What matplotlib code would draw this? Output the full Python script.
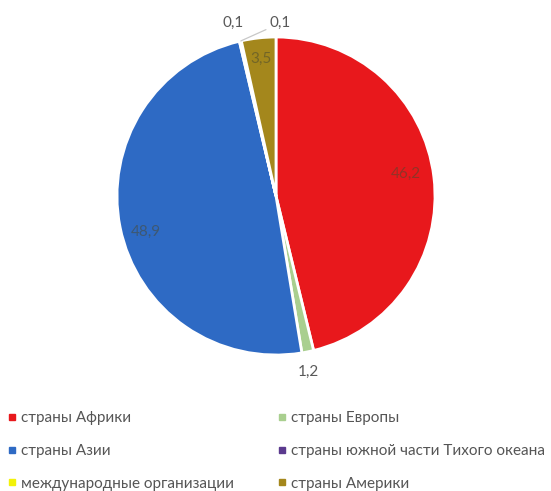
import matplotlib
matplotlib.use("Agg")
import matplotlib.pyplot as plt
import numpy as np
from matplotlib.lines import Line2D

categories = ["страны Африки", "страны Европы", "страны Азии",
              "страны южной части Тихого океана", "международные организации",
              "страны Америки"]
values = [46.2, 1.2, 48.9, 0.1, 0.1, 3.5]
labels = ["46,2", "1,2", "48,9", "0,1", "0,1", "3,5"]
colors = ["#E8181C", "#A9CF8F", "#2E6AC4", "#5B3A8E", "#F2F20A", "#A4871C"]

plt.rcParams['font.family'] = ['Lato', 'DejaVu Sans']
fig = plt.figure(figsize=(5.51, 4.91), dpi=100)
W, H = 551, 491
cx, cy, R = 276, 196, 159
ax = fig.add_axes([(cx - R) / W, (H - cy - R) / H, 2 * R / W, 2 * R / H])
wedges, _ = ax.pie(values, colors=colors, startangle=90, counterclock=False,
                   wedgeprops=dict(edgecolor="white", linewidth=2))
ax.set_xlim(-1, 1); ax.set_ylim(-1, 1); ax.set_aspect("equal")
ax.axis("off")

tcol = "#595959"
inner = {0: (0.83, 3.0), 2: (0.85, 4.0), 5: (0.87, 0.0)}
for i, w in enumerate(wedges):
    mid = (w.theta1 + w.theta2) / 2
    if i in inner:
        r, off = inner[i]
        a = np.deg2rad(mid + off)
        ax.text(r * np.cos(a), r * np.sin(a), labels[i], ha="center",
                va="center", fontsize=11, color="#4a4a30", alpha=0.55)
    elif i == 1:
        a = np.deg2rad(mid - 1.2)
        r = 1.125
        ax.text(r * np.cos(a), r * np.sin(a), labels[i], ha="center",
                va="center", fontsize=11, color=tcol)
# tiny slices
w4 = wedges[4]
m4 = np.deg2rad((w4.theta1 + w4.theta2) / 2)
ax.text((233 - cx) / R, (cy - 23) / R, labels[3], ha="center", va="center",
        fontsize=11, color=tcol)
ax.annotate(labels[4], xy=(np.cos(m4), np.sin(m4)),
            xytext=((270 - cx) / R, (cy - 23) / R),
            ha="left", va="center", fontsize=11, color=tcol,
            arrowprops=dict(arrowstyle="-", color="#c8c8c8", lw=0.9,
                            shrinkA=1, shrinkB=0),
            annotation_clip=False)
for t in ax.texts:
    t.set_clip_on(False)

def col_legend(idx, x):
    handles = [Line2D([], [], marker="s", linestyle="none", markersize=4,
                      color=colors[i]) for i in idx]
    lg = fig.legend(handles, [categories[i] for i in idx], loc="center left",
                    bbox_to_anchor=(x / W, 1 - 451 / H), frameon=False,
                    fontsize=11, handlelength=0.5, handletextpad=0.35,
                    labelspacing=1.22, borderpad=0, borderaxespad=0,
                    labelcolor="#555555")
    return lg

col_legend([0, 2, 4], 8)
col_legend([1, 3, 5], 278)
fig.savefig("out.png", dpi=100)
